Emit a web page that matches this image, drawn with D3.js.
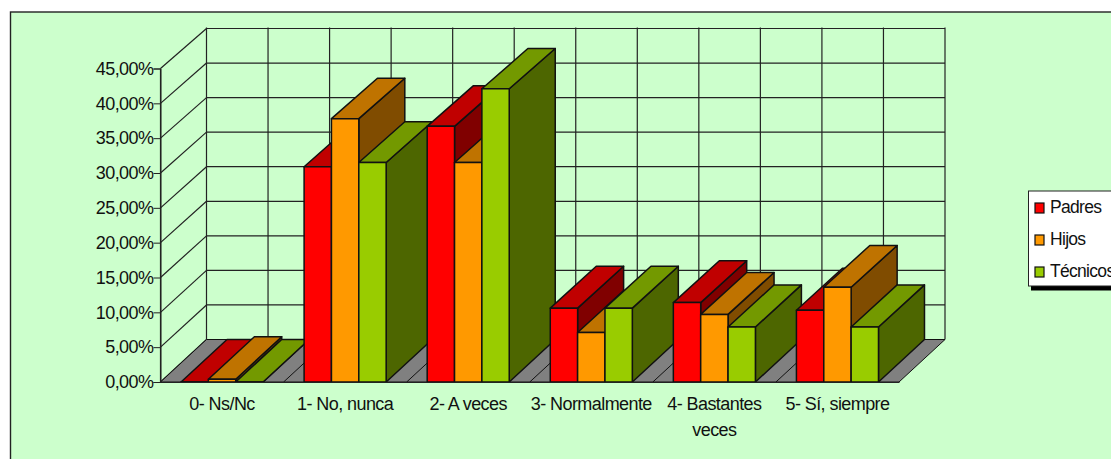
<!DOCTYPE html>
<html>
<head>
<meta charset="utf-8">
<script src="https://cdnjs.cloudflare.com/ajax/libs/d3/7.8.5/d3.min.js"></script>
<style>
  html, body { margin: 0; padding: 0; background: #fff; overflow: hidden; }
  svg { display: block; }
  text { font-family: "Liberation Sans", Arial, sans-serif; fill: #111; }
</style>
</head>
<body>
<div id="chart"></div>
<script>
var categories = ['0- Ns/Nc', '1- No, nunca', '2- A veces', '3- Normalmente', '4- Bastantes veces', '5- Sí, siempre'];
var seriesNames = ['Padres', 'Hijos', 'Técnicos'];
var padres = [0, 30.9, 36.7, 10.6, 11.4, 10.3];
var hijos = [0.4, 37.8, 31.5, 7.1, 9.7, 13.6];
var tecnicos = [0, 31.5, 42.1, 10.6, 7.9, 7.9];
var yTicks = [0, 5, 10, 15, 20, 25, 30, 35, 40, 45];

var width = 1111, height = 459;

// front face box and the shift to the back wall
var left = 160.5, right = 899, base = 382, top45 = 68.5;
var depthX = 46, backBase = 339.5, backTop = 28.5;

var seriesValues = [padres, hijos, tecnicos];
var faces = [
  { front: '#ff0000', top: '#c00000', side: '#800000' },
  { front: '#ff9900', top: '#bf7300', side: '#804c00' },
  { front: '#99cc00', top: '#739900', side: '#4d6600' }
];

var es = d3.formatLocale({ decimal: ',', thousands: '.', grouping: [3], currency: ['', ' €'] });

var x = d3.scaleBand().domain(categories).range([left, right]);
// bars are as deep as the floor, gap is 150% of a bar
var x1 = d3.scaleBand().domain(seriesNames).range([0, x.bandwidth()]).paddingInner(0).paddingOuter(0.75);
var y = d3.scaleLinear().domain([0, 45]).range([base, top45]);
var yBack = d3.scaleLinear().domain([0, 45]).range([backBase, backTop]);

var svg = d3.select('#chart').append('svg').attr('width', width).attr('height', height);

svg.append('rect')
  .attr('x', 10.5).attr('y', 12)
  .attr('width', width).attr('height', height)
  .attr('fill', '#ccffcc')
  .attr('stroke', '#222').attr('stroke-width', 1.4);

function poly(g, pts, fill) {
  return g.append('polygon')
    .attr('points', pts.map(function(p) { return p.join(','); }).join(' '))
    .attr('fill', fill)
    .attr('stroke', '#111')
    .attr('stroke-width', 1.5)
    .attr('stroke-linejoin', 'round');
}

// Back and side wall grid
var grid = svg.append('g').attr('stroke', '#222').attr('stroke-width', 1.2).attr('fill', 'none');

yTicks.forEach(function(t) {
  grid.append('line')
    .attr('x1', left).attr('y1', y(t))
    .attr('x2', left + depthX).attr('y2', yBack(t));
  grid.append('line')
    .attr('x1', left + depthX).attr('y1', yBack(t))
    .attr('x2', right + depthX).attr('y2', yBack(t));
});

categories.forEach(function(c) {
  var bx = x(c) + depthX;
  grid.append('line').attr('x1', bx).attr('x2', bx).attr('y1', backTop - 1).attr('y2', backBase);
  grid.append('line').attr('x1', bx + x.bandwidth() / 2).attr('x2', bx + x.bandwidth() / 2).attr('y1', backTop - 1).attr('y2', backBase);
});
grid.append('line').attr('x1', right + depthX).attr('x2', right + depthX).attr('y1', backTop - 1).attr('y2', backBase);
grid.append('line').attr('x1', left).attr('x2', left).attr('y1', top45).attr('y2', base);

// Floor
var floor = svg.append('g');
poly(floor, [[left, base], [right, base], [right + depthX, backBase], [left + depthX, backBase]], '#808080')
  .attr('stroke-width', 1);
categories.slice(1).forEach(function(c) {
  floor.append('line')
    .attr('x1', x(c)).attr('y1', base)
    .attr('x2', x(c) + depthX).attr('y2', backBase)
    .attr('stroke', '#111');
});

// Bars, left to right so that each one hides the side of the one before
var bars = svg.append('g');
categories.forEach(function(c, i) {
  seriesNames.forEach(function(s, j) {
    var v = seriesValues[j][i],
      x0 = x(c) + x1(s),
      x2 = x0 + x1.bandwidth(),
      yF = y(v),
      yB = yBack(v),
      g = bars.append('g');

    poly(g, [[x2, yF], [x2 + depthX, yB], [x2 + depthX, backBase], [x2, base]], faces[j].side);
    poly(g, [[x0, yF], [x2, yF], [x2 + depthX, yB], [x0 + depthX, yB]], faces[j].top);
    poly(g, [[x0, base], [x2, base], [x2, yF], [x0, yF]], faces[j].front);
  });
});

// Axes
var yAxis = d3.axisLeft(y)
  .tickValues(yTicks)
  .tickSize(7)
  .tickPadding(0)
  .tickFormat(function(d) { return es.format('.2f')(d) + '%'; });

var yG = svg.append('g')
  .attr('transform', 'translate(' + left + ',0)')
  .call(yAxis);
yG.select('.domain').attr('stroke', '#222');
yG.selectAll('.tick line').attr('stroke', '#222');
yG.selectAll('.tick text')
  .attr('font-size', 18)
  .attr('letter-spacing', -0.55)
  .attr('font-family', '"Liberation Sans", Arial, sans-serif')
  .attr('fill', '#111');

var xAxis = d3.axisBottom(x).tickSize(0).tickPadding(0);
var xG = svg.append('g')
  .attr('transform', 'translate(0,' + base + ')')
  .call(xAxis);
xG.select('.domain').attr('stroke', '#222');

// split the long label the way the original wraps it
xG.selectAll('.tick text').each(function(d) {
  var t = d3.select(this).text(null)
    .attr('font-size', 18)
    .attr('letter-spacing', -0.58)
    .attr('font-family', '"Liberation Sans", Arial, sans-serif')
    .attr('fill', '#111')
    .attr('dy', null)
    .attr('y', 28);
  var lines = d === '4- Bastantes veces' ? ['4- Bastantes', 'veces'] : [d];
  lines.forEach(function(l, k) {
    t.append('tspan').attr('x', 0).attr('y', 28 + k * 26).text(l);
  });
});

// Legend
var legend = svg.append('g');
legend.append('rect')
  .attr('x', 1031).attr('y', 194)
  .attr('width', 90).attr('height', 96.5)
  .attr('fill', '#000');
legend.append('rect')
  .attr('x', 1028.5).attr('y', 191)
  .attr('width', 90).attr('height', 95)
  .attr('fill', '#fff').attr('stroke', '#222');

var legendY = d3.scalePoint().domain(seriesNames).range([208, 272]);

seriesNames.forEach(function(s, j) {
  legend.append('rect')
    .attr('x', 1035).attr('y', legendY(s) - 5)
    .attr('width', 9).attr('height', 10)
    .attr('fill', faces[j].front)
    .attr('stroke', '#111').attr('stroke-width', 1.2);
  legend.append('text')
    .attr('x', 1050).attr('y', legendY(s) + 5)
    .attr('font-size', 17.5)
    .attr('letter-spacing', -0.7)
    .text(s);
});
</script>
</body>
</html>
